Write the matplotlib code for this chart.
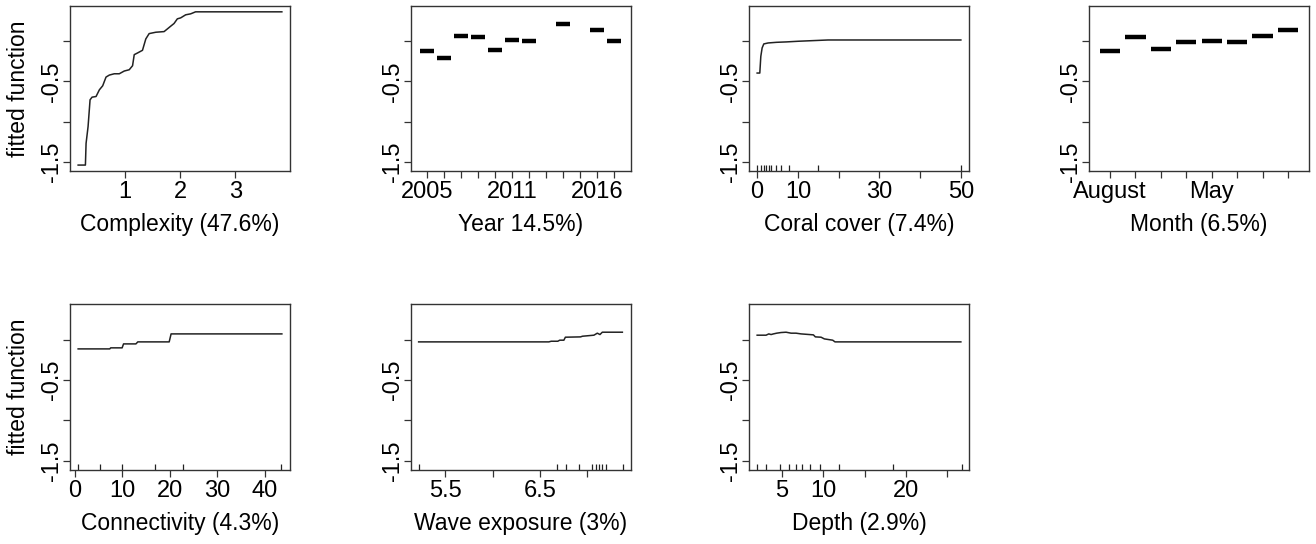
import numpy as np
import matplotlib
matplotlib.use('Agg')
import matplotlib.pyplot as plt

plt.rcParams['font.family'] = ['Liberation Sans', 'DejaVu Sans']
plt.rcParams['font.size'] = 16.5

# partial dependence curves
complexity_x = [0.162, 0.293, 0.305, 0.341, 0.377, 0.413, 0.485, 0.545, 0.605, 0.665, 0.725,
                0.814, 0.904, 0.994, 1.084, 1.144, 1.174, 1.234, 1.323, 1.383, 1.443, 1.563,
                1.713, 1.772, 1.832, 1.892, 1.952, 2.012, 2.102, 2.192, 2.281, 3.838]
complexity_y = [-1.539, -1.539, -1.270, -1.062, -0.730, -0.697, -0.689, -0.606, -0.556, -0.448,
                -0.423, -0.407, -0.407, -0.373, -0.357, -0.307, -0.170, -0.149, -0.116, 0.025,
                0.091, 0.108, 0.116, 0.149, 0.183, 0.216, 0.274, 0.286, 0.324, 0.336, 0.361, 0.361]

year_levels = ['2005', '2006', '2007', '2008', '2010', '2011', '2012', '2013', '2014', '2015', '2016', '2017']
year_shown = ['2005', '2011', '2016']
year_effect = [-0.129, -0.216, 0.058, 0.046, -0.116, 0.017, 0.0, np.nan, 0.207, np.nan, 0.133, 0.0]

coral_x = [0.0, 0.65, 0.90, 1.22, 1.63, 2.69, 4.73, 7.17, 10.0, 17.4, 49.96]
coral_y = [-0.398, -0.398, -0.191, -0.087, -0.037, -0.025, -0.017, -0.012, -0.004, 0.012, 0.012]
coral_rug = [0.0, 1.06, 1.71, 2.28, 2.85, 3.50, 4.73, 5.79, 7.74, 14.9, 49.96]

month_levels = ['August', 'December', 'July', 'June', 'May', 'November', 'October', 'September']
month_shown = ['August', 'May']
month_effect = [-0.129, 0.046, -0.100, -0.017, 0.0, -0.017, 0.058, 0.137]

conn_x = [0.75, 7.4, 7.6, 10.0, 10.3, 12.9, 13.3, 19.9, 20.3, 43.6]
conn_y = [-0.116, -0.116, -0.103, -0.103, -0.054, -0.054, -0.029, -0.029, 0.070, 0.070]
conn_rug = [0.75, 5.4, 9.9, 16.9, 22.9, 43.5]

wave_x = [5.217, 6.595, 6.62, 6.69, 6.71, 6.754, 6.77, 6.931, 6.95, 7.072, 7.108, 7.136, 7.161, 7.373]
wave_y = [-0.029, -0.029, -0.021, -0.021, -0.008, -0.008, 0.029, 0.033, 0.041, 0.054, 0.079, 0.062, 0.091, 0.091]
wave_rug = [5.224, 6.684, 6.779, 6.913, 7.055, 7.097, 7.125, 7.161, 7.203, 7.380]

depth_x = [1.98, 3.06, 3.39, 3.67, 3.95, 4.35, 4.88, 5.48, 6.09, 6.69, 7.30, 8.31, 8.79,
           9.03, 9.72, 10.12, 11.13, 11.41, 26.65]
depth_y = [0.054, 0.054, 0.070, 0.062, 0.070, 0.079, 0.087, 0.091, 0.079, 0.079, 0.070, 0.062,
           0.058, 0.033, 0.029, 0.008, -0.008, -0.029, -0.029]
depth_rug = [1.98, 3.06, 4.8, 5.81, 6.69, 7.42, 8.35, 9.64, 11.85, 18.4, 26.73]

W, H = 1316, 544
col_left = [70, 410.5, 749, 1089]
row_top = [5.7, 304.3]
box_w, box_h = 220, 165.5

# same y range on every panel, R style 4% padding
all_y = np.concatenate([complexity_y, coral_y, conn_y, wave_y, depth_y,
                        np.array(year_effect)[~np.isnan(year_effect)], month_effect])
ypad = 0.04 * (all_y.max() - all_y.min())
ylim = (all_y.min() - ypad, all_y.max() + ypad)

fig = plt.figure(figsize=(W / 100, H / 100), dpi=100)


def make_ax(row, col):
    ax = fig.add_axes([col_left[col] / W, 1 - (row_top[row] + box_h) / H, box_w / W, box_h / H])
    for s in ax.spines.values():
        s.set_linewidth(1.0)
        s.set_color('#333333')
    ax.set_ylim(ylim)
    ax.set_yticks([-1.5, -1.0, -0.5, 0.0], ['-1.5', '', '-0.5', ''], rotation=90, va='center')
    ax.tick_params(direction='out', length=5, width=0.9, color='#333333', labelsize=17)
    ax.tick_params(axis='x', pad=2)
    ax.tick_params(axis='y', pad=0)
    if col == 0:
        ax.set_ylabel('fitted function', fontsize=16.5, va='center')
        ax.yaxis.set_label_coords(-0.236, 0.5)
    return ax


def xlabel(ax, text):
    ax.set_xlabel(text, fontsize=16.5, va='baseline')
    ax.xaxis.set_label_coords(0.5, -0.363)


def curve(ax, x, y, rug=None):
    ax.plot(x, y, color='#222222', lw=1.1)
    lo, hi = min(x), max(x)
    pad = 0.04 * (hi - lo)
    ax.set_xlim(lo - pad, hi + pad)
    if rug is not None:
        ax.vlines(rug, 0, 0.035, transform=ax.get_xaxis_transform(), color='#222222', lw=0.9)


def factor(ax, levels, effect, shown):
    n = len(levels)
    pos = np.arange(1, n + 1)
    ax.hlines(effect, pos - 0.4, pos + 0.4, color='black', lw=3.2)
    ax.set_xlim(0.5 - 0.04 * n, n + 0.5 + 0.04 * n)
    ax.set_xticks(pos, [l if l in shown else '' for l in levels])


ax = make_ax(0, 0)
curve(ax, complexity_x, complexity_y)
ax.set_xticks([1, 2, 3])
xlabel(ax, 'Complexity (47.6%)')

ax = make_ax(0, 1)
factor(ax, year_levels, year_effect, year_shown)
xlabel(ax, 'Year 14.5%)')

ax = make_ax(0, 2)
curve(ax, coral_x, coral_y, coral_rug)
ax.set_xticks([0, 10, 20, 30, 40, 50], ['0', '10', '', '30', '', '50'])
xlabel(ax, 'Coral cover (7.4%)')

ax = make_ax(0, 3)
factor(ax, month_levels, month_effect, month_shown)
xlabel(ax, 'Month (6.5%)')

ax = make_ax(1, 0)
curve(ax, conn_x, conn_y, conn_rug)
ax.set_xticks([0, 10, 20, 30, 40])
xlabel(ax, 'Connectivity (4.3%)')

ax = make_ax(1, 1)
curve(ax, wave_x, wave_y, wave_rug)
ax.set_xticks([5.5, 6.0, 6.5, 7.0], ['5.5', '', '6.5', ''])
xlabel(ax, 'Wave exposure (3%)')

ax = make_ax(1, 2)
curve(ax, depth_x, depth_y, depth_rug)
ax.set_xticks([5, 10, 15, 20, 25], ['5', '10', '', '20', ''])
xlabel(ax, 'Depth (2.9%)')

fig.savefig('out.png', dpi=100)
